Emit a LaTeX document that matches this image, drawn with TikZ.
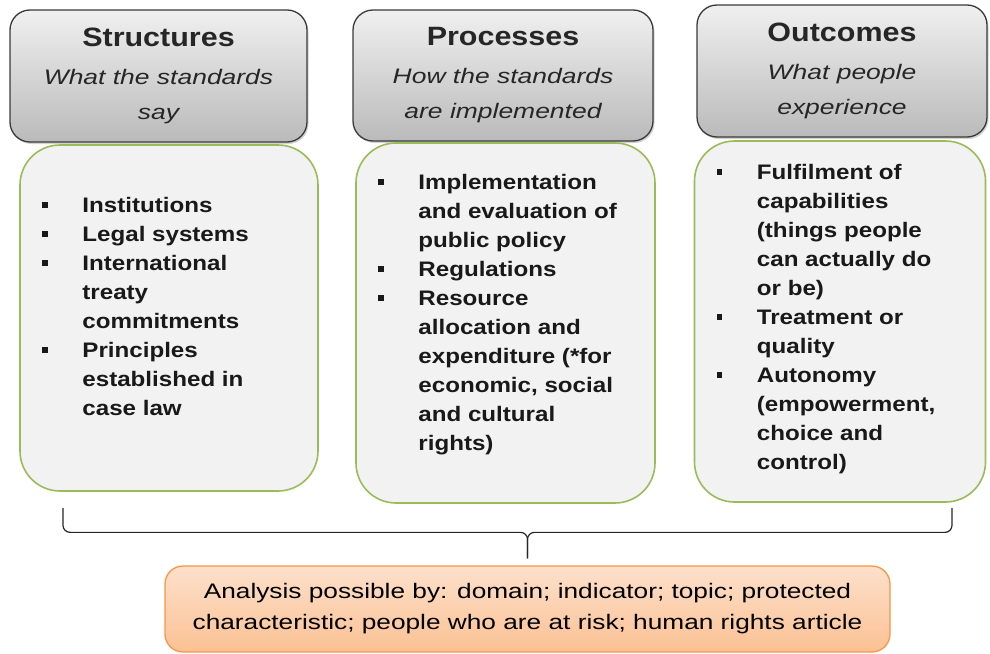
\documentclass[tikz,border=0pt]{standalone}
\usepackage{fontspec}
\setmainfont{Liberation Sans}[FakeStretch=1.15]
\usetikzlibrary{positioning, shadows}

\definecolor{headline}{HTML}{3A3A3A}
\definecolor{leafgreen}{HTML}{9BBB59}
\definecolor{bodyfill}{HTML}{F2F2F2}
\definecolor{orangeline}{HTML}{F79646}
\definecolor{orangetop}{HTML}{FDE0CB}
\definecolor{orangebot}{HTML}{FBC194}

\newcommand{\sqbullet}{\makebox[40pt][l]{\rule[4.8pt]{5.5pt}{5.5pt}}}
\newcommand{\contline}{\hspace*{40pt}}
\newcommand{\headtitle}[1]{{\fontsize{26.5}{35}\selectfont\bfseries\upshape\addfontfeature{FakeStretch=1.15}#1}}

\tikzset{
  headbox/.style={draw=headline, line width=1.3pt, rounded corners=20pt,
    top color=black!6, bottom color=black!27, align=center, inner sep=0pt,
    font=\fontsize{21}{35}\selectfont\itshape\addfontfeature{FakeStretch=1.26}, text=black!85,
    drop shadow={shadow xshift=1.5pt, shadow yshift=-2pt, opacity=0.35}},
  bodybox/.style={draw=leafgreen, line width=1.6pt, fill=bodyfill,
    rounded corners=40pt, inner sep=0pt},
  listtext/.style={align=left, inner sep=0pt, text=black!90,
    font=\fontsize{21}{29}\selectfont\bfseries},
  resultbox/.style={draw=orangeline, line width=1.3pt, rounded corners=18pt,
    top color=orangetop, bottom color=orangebot, align=center, inner sep=0pt,
    font=\fontsize{21}{31}\selectfont\addfontfeature{FakeStretch=1.25}, text=black},
  bracket/.style={line width=1.2pt, black!85, rounded corners=7pt}
}

\begin{document}
\begin{tikzpicture}[x=1pt, y=-1pt]
    \useasboundingbox (0,0) rectangle (990,653);

    % column heads
    \node[headbox, minimum width=297pt, minimum height=132pt] (shead) at (158.5,76)
        {\headtitle{Structures}\\[3pt]What the standards\\say};
    \node[headbox, minimum width=300pt, minimum height=131pt] (phead) at (503,75.5)
        {\headtitle{Processes}\\[3pt]How the standards\\are implemented};
    \node[headbox, minimum width=290pt, minimum height=132pt] (ohead) at (842,71)
        {\headtitle{Outcomes}\\[3pt]What people\\experience};

    % column bodies
    \node[bodybox, minimum width=298pt, minimum height=346pt] (sbody) at (169,318) {};
    \node[bodybox, minimum width=299pt, minimum height=360pt] (pbody) at (505.5,323) {};
    \node[bodybox, minimum width=291pt, minimum height=361pt] (obody) at (840,321.5) {};

    \node[listtext, below right=53pt and 23pt of sbody.north west] (slist)
        {\sqbullet Institutions\\
         \sqbullet Legal systems\\
         \sqbullet International\\
         \contline treaty\\
         \contline commitments\\
         \sqbullet Principles\\
         \contline established in\\
         \contline case law};
    \node[listtext, below right=32pt and 23pt of pbody.north west] (plist)
        {\sqbullet Implementation\\
         \contline and evaluation of\\
         \contline public policy\\
         \sqbullet Regulations\\
         \sqbullet Resource\\
         \contline allocation and\\
         \contline expenditure (*for\\
         \contline economic, social\\
         \contline and cultural\\
         \contline rights)};
    \node[listtext, below right=24pt and 23pt of obody.north west] (olist)
        {\sqbullet Fulfilment of\\
         \contline capabilities\\
         \contline (things people\\
         \contline can actually do\\
         \contline or be)\\
         \sqbullet Treatment or\\
         \contline quality\\
         \sqbullet Autonomy\\
         \contline (empowerment,\\
         \contline choice and\\
         \contline control)};

    % analysis box
    \node[resultbox, minimum width=725pt, minimum height=86pt] (analysis) at (527.5,609)
        {Analysis possible by: domain; indicator; topic; protected\\
         characteristic; people who are at risk; human rights article};

    % brace
    \coordinate (tip) at ([yshift=7pt]analysis.north);
    \coordinate (mid) at ([yshift=33pt]analysis.north);
    \coordinate (bl) at (63,508);
    \coordinate (br) at (952,508);
    \draw[bracket] (bl) -- (bl |- mid) -- (mid) -- (tip);
    \draw[bracket] (br) -- (br |- mid) -- (mid) -- (tip);

\end{tikzpicture}
\end{document}
